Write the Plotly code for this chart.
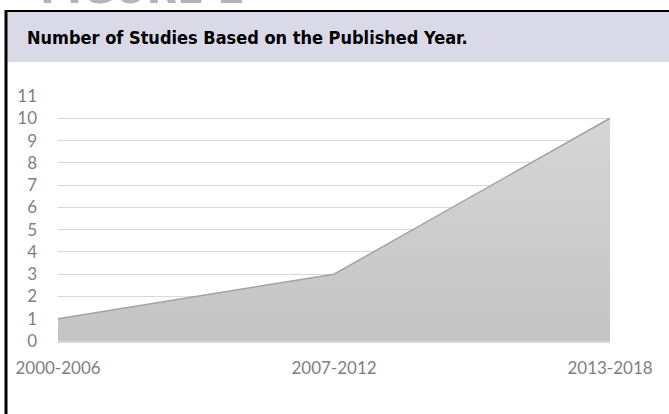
import plotly.graph_objects as go

categories = ["2000-2006", "2007-2012", "2013-2018"]
studies = [1, 3, 10]
y_ticks = list(range(0, 12))
title_text = "Number of Studies Based on the Published Year."
figure_label = "FIGURE 2"

W, H = 669, 414
L, R, T, B = 58, 59, 96, 73
pw, ph = W - L - R, H - T - B

def px(x):
    return (x - L) / pw

def py(y):
    return (H - B - y) / ph

NARROW = "Arial Narrow, Liberation Sans Narrow, DejaVu Sans Condensed, sans-serif"

fig = go.Figure()
fig.add_trace(go.Scatter(
    x=list(range(len(categories))), y=studies,
    mode="lines", fill="tozeroy",
    line=dict(color="#a3a3a3", width=1.5),
    fillgradient=dict(type="vertical",
                      colorscale=[[0, "#c4c4c4"], [1, "#d6d6d6"]]),
    hoverinfo="skip", showlegend=False,
))

fig.update_layout(
    width=W, height=H,
    margin=dict(l=L, r=R, t=T, b=B, pad=0),
    paper_bgcolor="white", plot_bgcolor="white",
    font=dict(family="Lato", size=17, color="#7f7f7f"),
    xaxis=dict(
        range=[0, 2], tickmode="array",
        tickvals=list(range(len(categories))), ticktext=categories,
        showgrid=False, zeroline=False,
        showline=True, linecolor="#d9d9d9", linewidth=2,
        ticks="", ticklabelstandoff=11, fixedrange=True,
    ),
    yaxis=dict(
        range=[0, 11], tickmode="array", tickvals=y_ticks,
        showgrid=True, gridcolor="#d9d9d9", gridwidth=1,
        zeroline=False, showline=False, ticks="",
        ticklabelstandoff=20, fixedrange=True,
    ),
    shapes=[
        dict(type="rect", xref="paper", yref="paper",
             x0=px(5), x1=px(W + 5), y0=py(62), y1=py(11),
             fillcolor="#dad9e8", line=dict(width=0), layer="below"),
        dict(type="line", xref="paper", yref="paper",
             x0=px(5), x1=px(W + 5), y0=py(11), y1=py(11),
             line=dict(color="black", width=2)),
        dict(type="line", xref="paper", yref="paper",
             x0=px(6), x1=px(6), y0=py(10), y1=py(H + 5),
             line=dict(color="black", width=3)),
    ],
    annotations=[
        dict(text="<b>" + title_text + "</b>", xref="paper", yref="paper",
             x=px(25), y=py(37), xanchor="left", yanchor="middle",
             showarrow=False,
             font=dict(family=NARROW, size=18, color="black")),
        dict(text="<b>" + figure_label + "</b>", xref="paper", yref="paper",
             x=px(38), y=py(15), xanchor="left", yanchor="bottom",
             showarrow=False,
             font=dict(family=NARROW, size=44, color="#b5b5b5")),
    ],
)

fig.write_html("out.html")
